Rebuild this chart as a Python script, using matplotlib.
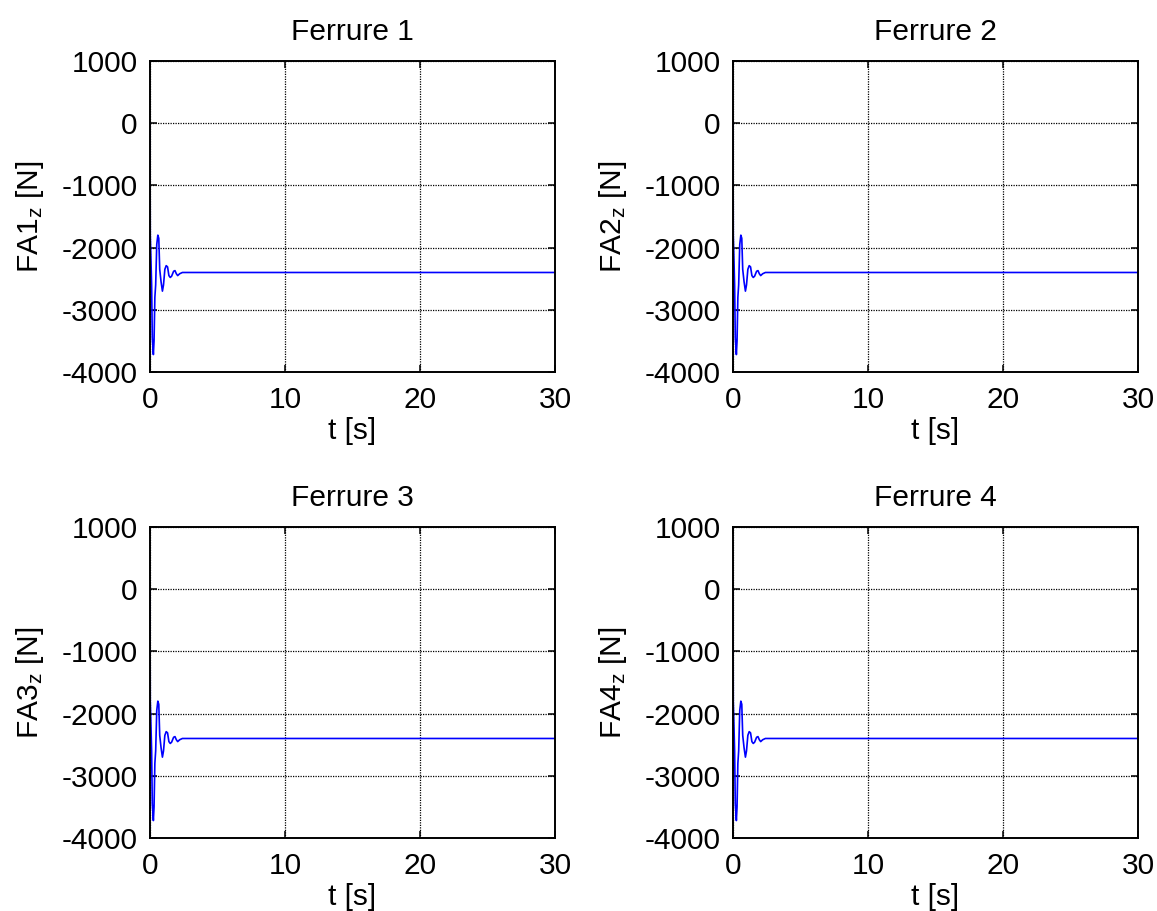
import numpy as np
import matplotlib
matplotlib.use("Agg")
import matplotlib.pyplot as plt

plt.rcParams['font.family'] = ['Liberation Sans', 'DejaVu Sans']
plt.rcParams['mathtext.default'] = 'regular'
plt.rcParams['axes.unicode_minus'] = False

# transient of the vertical force at each fitting (same for all four)
t = [0, 0.02, 0.06, 0.12, 0.17, 0.25, 0.30, 0.36, 0.42, 0.50, 0.58, 0.65,
     0.72, 0.82, 0.92, 1.00, 1.10, 1.20, 1.30, 1.40, 1.50, 1.60, 1.75,
     1.85, 1.95, 2.05, 2.20, 2.40, 30]
fz = [0, -1800, -2100, -2600, -3450, -3720, -3500, -2800, -2600, -1950,
      -1800, -1850, -2350, -2550, -2700, -2600, -2350, -2290, -2310, -2450,
      -2480, -2460, -2380, -2370, -2420, -2450, -2420, -2400, -2400]

titles = ['Ferrure 1', 'Ferrure 2', 'Ferrure 3', 'Ferrure 4']
ylabels = ['FA1$_z$ [N]', 'FA2$_z$ [N]', 'FA3$_z$ [N]', 'FA4$_z$ [N]']
xticks = [0, 10, 20, 30]
yticks = [-4000, -3000, -2000, -1000, 0, 1000]

fs = 21.5
fig = plt.figure(figsize=(11.57, 9.11), dpi=100)
W, H = 1157, 911
boxes = [(150, 61), (733, 61), (150, 527), (733, 527)]

for i, (x0, y0) in enumerate(boxes):
    ax = fig.add_axes([x0 / W, 1 - (y0 + 311) / H, 405 / W, 311 / H])
    ax.plot(t, fz, color='blue', lw=1.2)
    ax.set_xlim(0, 30)
    ax.set_ylim(-4000, 1000)
    ax.set_xticks(xticks)
    ax.set_yticks(yticks)
    ax.grid(True, color='black', linestyle=(0, (1, 1)), linewidth=0.9)
    ax.tick_params(direction='in', top=True, right=True, labelsize=fs,
                   length=5, width=1.1)
    ax.tick_params(axis='x', pad=10)
    ax.tick_params(axis='y', pad=9)
    for s in ax.spines.values():
        s.set_linewidth(1.4)
    ax.set_title(titles[i], fontsize=fs, pad=15)
    ax.set_xlabel('t [s]', fontsize=fs, labelpad=2)
    ax.set_ylabel(ylabels[i], fontsize=fs, labelpad=11)

fig.savefig('out.png', dpi=100)
